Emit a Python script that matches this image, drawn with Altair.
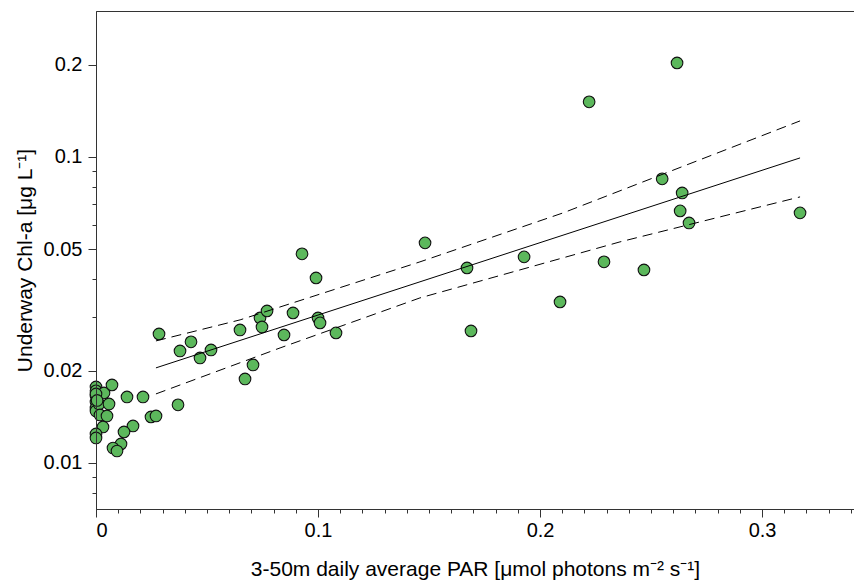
import altair as alt
import pandas as pd

# --- data ---
par = [0, 0, 0, 0, 0, 0, 0.00135, 0.0018, 0.0036, 0.00586, 0.00495, 0.00315, 0, 0, 0.0072,
       0.01396, 0.02117, 0.02477, 0.02703, 0.03694, 0.01667, 0.01261, 0.01126, 0.00766, 0.00946,
       0.02838, 0.03784, 0.04279, 0.04685, 0.0518, 0.06486, 0.06712, 0.07072, 0.07387, 0.07477,
       0.07703, 0.08468, 0.08874, 0.09279, 0.0991, 0.1, 0.1009, 0.1081, 0.1482, 0.1671, 0.1689,
       0.1928, 0.209, 0.2288, 0.2468, 0.2221, 0.2617, 0.255, 0.264, 0.2631, 0.2671, 0.3171, 0, 0.0005]
chl = [0.01772, 0.0172, 0.01582, 0.01513, 0.01656, 0.01479, 0.01559, 0.01435, 0.01694, 0.01559,
       0.01424, 0.01311, 0.01244, 0.01207, 0.01799, 0.01643, 0.01643, 0.01414, 0.01424, 0.01548,
       0.01321, 0.01263, 0.01154, 0.01119, 0.01094, 0.02641, 0.02323, 0.02487, 0.02204, 0.02341,
       0.02721, 0.01882, 0.02091, 0.02979, 0.02783, 0.0314, 0.02621, 0.03093, 0.04823, 0.04025,
       0.02979, 0.02869, 0.02661, 0.05239, 0.0434, 0.02701, 0.04715, 0.0336, 0.04541, 0.04275,
       0.1514, 0.203, 0.08481, 0.0763, 0.06665, 0.06088, 0.06566, 0.01681, 0.01600]

fit_par = [0.027, 0.3171]
fit_chl = [0.02045, 0.0993]

upper_par = [0.027, 0.0649, 0.1459, 0.2104, 0.3171]
upper_chl = [0.02505, 0.02935, 0.04541, 0.06566, 0.1312]
lower_par = [0.027, 0.0829, 0.1459, 0.2360, 0.3171]
lower_chl = [0.01681, 0.02376, 0.03462, 0.05278, 0.07405]

x_major = [0, 0.1, 0.2, 0.3]
x_minor = [round(i * 0.01, 2) for i in range(1, 35) if i % 10 != 0]
y_major = [0.01, 0.02, 0.05, 0.1, 0.2]
y_minor = [0.008, 0.009, 0.03, 0.04, 0.06, 0.07, 0.08, 0.09]

df_pts = pd.DataFrame({"PAR": par, "Chl": chl})
df_fit = pd.DataFrame({"PAR": fit_par, "Chl": fit_chl})
df_band = pd.concat([
    pd.DataFrame({"PAR": upper_par, "Chl": upper_chl, "bound": "upper"}),
    pd.DataFrame({"PAR": lower_par, "Chl": lower_chl, "bound": "lower"}),
])

FONT = "Liberation Sans"
AX = "#333333"
x_scale = alt.Scale(domain=[0, 0.3414], nice=False, zero=False)
y_scale = alt.Scale(type="log", domain=[0.00707, 0.3], nice=False)

x_title = "3-50m daily average PAR [\u03bcmol photons m\u207b\u00b2 s\u207b\u00b9]"
y_title = "Underway Chl-a [\u03bcg L\u207b\u00b9]"

points = alt.Chart(df_pts).mark_circle(
    size=135, color="#5cb85c", stroke="#111111", strokeWidth=1.1, opacity=1
).encode(
    x=alt.X("PAR:Q", scale=x_scale, axis=alt.Axis(
        orient="bottom", values=x_major, format=".1~f", tickSize=8, grid=False,
        domainColor=AX, tickColor=AX, labelFont=FONT, labelFontSize=20, labelColor="black",
        labelPadding=3, title=x_title, titleFont=FONT, titleFontSize=21,
        titleFontWeight="normal", titleColor="black", titlePadding=18)),
    y=alt.Y("Chl:Q", scale=y_scale, axis=alt.Axis(
        orient="left", values=y_major, format="~g", tickSize=8, grid=False,
        domainColor=AX, tickColor=AX, labelFont=FONT, labelFontSize=20, labelColor="black",
        labelPadding=6, title=y_title, titleFont=FONT, titleFontSize=21,
        titleFontWeight="normal", titleColor="black", titlePadding=8, zindex=1)),
)

fit = alt.Chart(df_fit).mark_line(color="black", strokeWidth=1).encode(
    x=alt.X("PAR:Q", scale=x_scale, axis=alt.Axis(
        orient="bottom", values=x_minor, tickSize=4, labels=False, grid=False,
        domainColor=AX, tickColor=AX, title=None)),
    y=alt.Y("Chl:Q", scale=y_scale, axis=alt.Axis(
        orient="left", values=y_minor, tickSize=4, labels=False, grid=False,
        domainColor=AX, tickColor=AX, title=None, zindex=1)),
)

band = alt.Chart(df_band).mark_line(color="black", strokeWidth=1, strokeDash=[10, 6]).encode(
    x=alt.X("PAR:Q", scale=x_scale, axis=alt.Axis(
        orient="top", ticks=False, labels=False, grid=False, domainColor=AX, title=None)),
    y=alt.Y("Chl:Q", scale=y_scale, axis=None),
    detail="bound:N",
)

chart = alt.layer(points, fit, band).resolve_axis(x="independent", y="independent").properties(
    width=758, height=498,
    autosize=alt.AutoSizeParams(type="none"),
    padding={"left": 88, "top": 3, "right": 0, "bottom": 72},
).configure_view(stroke=None).configure(background="white")

chart.save("out.html", embed_options={"renderer": "svg", "actions": False})
